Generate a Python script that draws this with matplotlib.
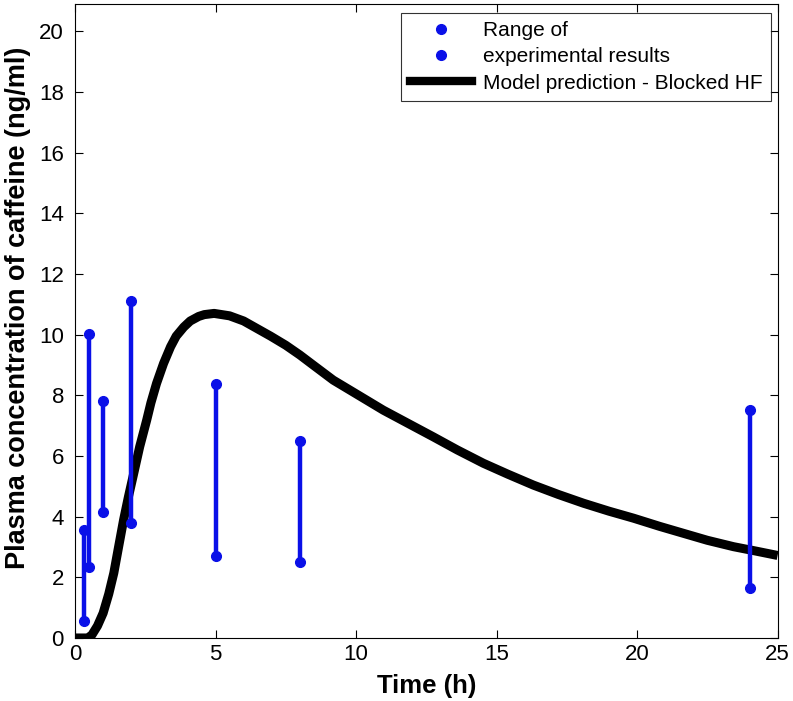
import matplotlib
matplotlib.use("Agg")
import matplotlib.pyplot as plt
from matplotlib.lines import Line2D

# experimental ranges (min / max) at each sampling time
exp_time = [0.33, 0.5, 1.0, 2.0, 5.0, 8.0, 24.0]
exp_low = [0.55, 2.35, 4.15, 3.8, 2.7, 2.5, 1.65]
exp_high = [3.57, 10.03, 7.8, 11.1, 8.37, 6.5, 7.5]

# model curve
model_time = [0.0, 0.45, 0.6, 0.8, 1.0, 1.2, 1.38, 1.55, 1.73, 1.9, 2.09, 2.3,
              2.55, 2.7, 2.9, 3.15, 3.4, 3.6, 3.87, 4.1, 4.4, 4.6, 4.95, 5.5,
              6.0, 6.96, 7.5, 8.0, 8.5, 9.19, 10.0, 10.97, 11.9, 12.75, 13.6,
              14.53, 15.4, 16.31, 17.2, 18.1, 19.0, 19.87, 20.8, 21.65, 22.5,
              23.43, 24.2, 25.0]
model_conc = [0.0, 0.0, 0.1, 0.4, 0.82, 1.45, 2.14, 3.0, 3.9, 4.65, 5.43, 6.3,
              7.18, 7.75, 8.39, 9.05, 9.6, 9.95, 10.25, 10.45, 10.6, 10.66, 10.7, 10.62,
              10.45, 9.95, 9.65, 9.33, 8.98, 8.5, 8.05, 7.51, 7.05, 6.63, 6.2,
              5.76, 5.4, 5.04, 4.73, 4.44, 4.18, 3.95, 3.68, 3.45, 3.22,
              3.01, 2.87, 2.72]

BLUE = "#0a10e8"

plt.rcParams.update({
    "font.family": ["Liberation Sans", "DejaVu Sans"],
    "font.size": 15,
})

fig = plt.figure(figsize=(7.93, 7.01), dpi=100)
ax = fig.add_axes([0.0946, 0.0899, 0.886, 0.9044])

ax.plot(model_time, model_conc, color="black", linewidth=6.5, solid_capstyle="butt",
        solid_joinstyle="round", zorder=2)

for t, lo, hi in zip(exp_time, exp_low, exp_high):
    ax.plot([t, t], [lo, hi], color=BLUE, linewidth=3.2, zorder=3)
    ax.plot([t, t], [lo, hi], linestyle="none", marker="o", markersize=7,
            color=BLUE, zorder=4)

ax.set_xlim(0, 25)
ax.set_ylim(0, 20.9)
ax.set_xticks([0, 5, 10, 15, 20, 25])
ax.set_yticks(range(0, 21, 2))
ax.tick_params(direction="in", length=6, width=0.8, top=True, right=True, labelsize=16)
ax.tick_params(axis="y", pad=8)
ax.tick_params(axis="x", pad=4)
for spine in ax.spines.values():
    spine.set_linewidth(0.8)

ax.set_xlabel("Time (h)", fontsize=18.5, fontweight="bold", labelpad=7)
ax.set_ylabel("Plasma concentration of caffeine (ng/ml)", fontsize=19.5, fontweight="bold")
ax.yaxis.set_label_coords(-0.062, 0.52)

handles = [
    Line2D([], [], linestyle="none", marker="o", markersize=7, color=BLUE),
    Line2D([], [], linestyle="none", marker="o", markersize=7, color=BLUE),
    Line2D([], [], color="black", linewidth=6),
]
labels = ["Range of", "experimental results", "Model prediction - Blocked HF"]
leg = ax.legend(handles, labels, loc="upper right", bbox_to_anchor=(0.99, 0.986),
                fontsize=15, frameon=True, fancybox=False, edgecolor="black",
                handlelength=3.0, handletextpad=0.5, borderaxespad=0.0,
                labelspacing=0.35, borderpad=0.4)
leg.get_frame().set_linewidth(0.8)

fig.savefig("out.png", dpi=100)
